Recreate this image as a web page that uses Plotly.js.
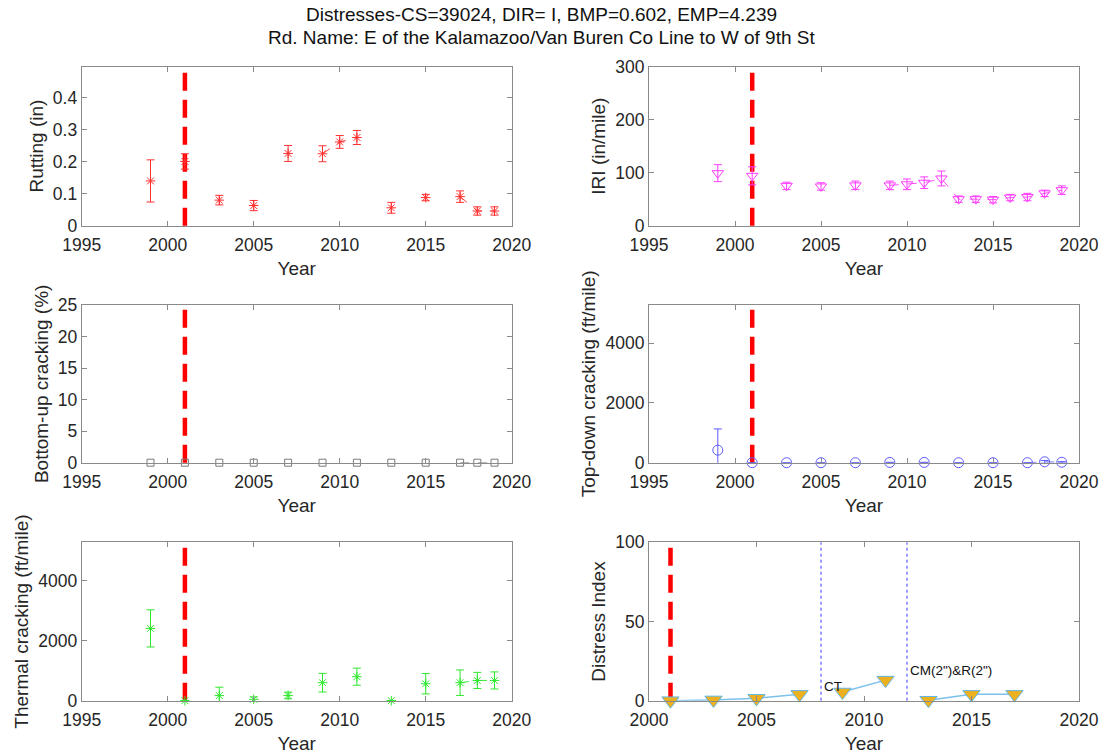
<!DOCTYPE html>
<html>
<head>
<meta charset="utf-8">
<script src="https://cdn.plot.ly/plotly-3.0.1.min.js"></script>
<style>html,body{margin:0;padding:0;background:#fff;}</style>
</head>
<body>
<div id="chart" style="width:1106px;height:755px;"></div>
<script>
// ---- Section data ----
const titleLines = [
  'Distresses-CS=39024, DIR= I, BMP=0.602, EMP=4.239',
  'Rd. Name: E of the Kalamazoo/Van Buren Co Line to W of 9th St'
];
const constructionYear = 2001;

const rutYears = [1999, 2001, 2003, 2005, 2007, 2009, 2010, 2011, 2013, 2015, 2017, 2018, 2019];
const rutVals  = [0.140, 0.201, 0.080, 0.063, 0.226, 0.225, 0.262, 0.276, 0.056, 0.088, 0.091, 0.046, 0.046];
const rutErr   = [0.066, 0.024, 0.015, 0.016, 0.025, 0.025, 0.020, 0.022, 0.017, 0.010, 0.018, 0.013, 0.013];

const iriYears = [1999, 2001, 2003, 2005, 2007, 2009, 2010, 2011, 2012, 2013, 2014, 2015, 2016, 2017, 2018, 2019];
const iriVals  = [99, 94, 75, 74, 76, 76, 78, 81, 89, 50, 50, 49, 53, 54, 61, 67];
const iriErr   = [16, 17, 7, 7, 8, 8, 10, 11, 14, 6, 6, 6, 6, 7, 6, 8];

const buYears = [1999, 2001, 2003, 2005, 2007, 2009, 2011, 2013, 2015, 2017, 2018, 2019];
const buVals  = [0, 0, 0, 0, 0, 0, 0, 0, 0, 0, 0, 0];

const tdYears = [1999, 2001, 2003, 2005, 2007, 2009, 2011, 2013, 2015, 2017, 2018, 2019];
const tdVals  = [420, 0, 0, 0, 0, 10, 10, 0, 0, 0, 30, 15];
const tdErr   = [710, 0, 0, 0, 0, 0, 0, 0, 0, 0, 45, 20];

const tcYears = [1999, 2001, 2003, 2005, 2007, 2009, 2011, 2013, 2015, 2017, 2018, 2019];
const tcVals  = [2410, 0, 170, 45, 175, 600, 800, 0, 565, 600, 675, 675];
const tcErr   = [620, 0, 280, 80, 110, 310, 285, 0, 340, 425, 270, 285];

const diYears = [2001, 2003, 2005, 2007, 2009, 2011, 2013, 2015, 2017];
const diVals  = [0, 0.5, 1.5, 4, 5.5, 13, 0.3, 4, 4];

const treatYears  = [2008, 2012];
const treatLabels = ['CT', 'CM(2")&R(2")'];
const treatLabelY = [9, 19];

const yearTicks   = [1995, 2000, 2005, 2010, 2015, 2020];
const diYearTicks = [2000, 2005, 2010, 2015, 2020];

// ---- helpers ----
const FONT = 'Liberation Sans, Arial, Helvetica, sans-serif';
const INK = '#262626';
const BOX = '#8a8a8a';

// insert a null between points that should not be joined by a line
function withGaps(xs, ys, es, isBreak) {
  const X = [], Y = [], E = [];
  xs.forEach((x, i) => {
    if (i > 0 && isBreak(xs[i - 1], x)) { X.push(null); Y.push(null); E.push(null); }
    X.push(x); Y.push(ys[i]); E.push(es ? es[i] : null);
  });
  return {X, Y, E};
}
const yearGap = (a, b) => b - a > 1;
const treatGap = (a, b) => treatYears.some(t => t > a && t < b);

function series(xa, ya, xs, ys, es, color, symbol, size) {
  const g = withGaps(xs, ys, es, yearGap);
  const tr = {
    type: 'scatter', mode: 'lines+markers', xaxis: xa, yaxis: ya,
    x: g.X, y: g.Y, connectgaps: false, cliponaxis: false,
    line: {color: color, width: 0.9, dash: 'dash'},
    marker: {symbol: symbol, size: size, color: color, line: {color: color, width: 1}},
    hoverinfo: 'x+y', showlegend: false
  };
  if (es) tr.error_y = {type: 'data', array: g.E, visible: true, color: color, thickness: 1, width: 4};
  return tr;
}

const traces = [
  series('x',  'y',  rutYears, rutVals, rutErr, '#ff3030', 'asterisk-open', 8),
  series('x2', 'y2', iriYears, iriVals, iriErr, '#ff3cff', 'triangle-down-open', 10),
  series('x3', 'y3', buYears,  buVals,  null,   '#7a7a7a', 'square-open', 7),
  series('x4', 'y4', tdYears,  tdVals,  tdErr,  '#5c5cff', 'circle-open', 10),
  series('x5', 'y5', tcYears,  tcVals,  tcErr,  '#2ee82e', 'asterisk-open', 8)
];

const di = withGaps(diYears, diVals, null, treatGap);
traces.push({
  type: 'scatter', mode: 'lines+markers', xaxis: 'x6', yaxis: 'y6',
  x: di.X, y: di.Y, connectgaps: false, cliponaxis: false,
  line: {color: '#7cc0ec', width: 1.5},
  marker: {symbol: 'triangle-down', size: 15, color: '#edb120', line: {color: '#5fb6e6', width: 1}},
  hoverinfo: 'x+y', showlegend: false
});

// ---- axes ----
const W = 1106, H = 755;
const colX = [[81.7, 511.7], [649, 1079]];
const rowY = [[66.5, 225.7], [305, 462.7], [542.3, 700.7]];
const xd = c => [colX[c][0] / W, colX[c][1] / W];
const yd = r => [1 - rowY[r][1] / H, 1 - rowY[r][0] / H];

function ax(extra) {
  return Object.assign({
    showline: true, mirror: 'ticks', linecolor: BOX, linewidth: 1,
    ticks: 'inside', ticklen: 5, tickwidth: 1, tickcolor: BOX,
    showgrid: false, zeroline: false,
    tickfont: {family: FONT, size: 17.5, color: INK}
  }, extra);
}
function xax(c, anchor, range, ticks) {
  return ax({domain: xd(c), anchor: anchor, range: range, tickvals: ticks, ticklabelstandoff: 3,
    title: {text: 'Year', font: {family: FONT, size: 19, color: INK}, standoff: 7}});
}
function yax(r, anchor, range, ticks, label) {
  return ax({domain: yd(r), anchor: anchor, range: range, tickvals: ticks,
    title: {text: label, font: {family: FONT, size: 19, color: INK}, standoff: 4}});
}

const layout = {
  width: W, height: H,
  margin: {l: 0, r: 0, t: 0, b: 0},
  paper_bgcolor: '#ffffff', plot_bgcolor: '#ffffff',
  font: {family: FONT, color: INK},
  showlegend: false,
  xaxis:  xax(0, 'y',  [1995, 2020], yearTicks),
  yaxis:  yax(0, 'x',  [0, 0.498], [0, 0.1, 0.2, 0.3, 0.4], 'Rutting (in)'),
  xaxis2: xax(1, 'y2', [1995, 2020], yearTicks),
  yaxis2: yax(0, 'x2', [0, 300], [0, 100, 200, 300], 'IRI (in/mile)'),
  xaxis3: xax(0, 'y3', [1995, 2020], yearTicks),
  yaxis3: yax(1, 'x3', [0, 25], [0, 5, 10, 15, 20, 25], 'Bottom-up cracking (%)'),
  xaxis4: xax(1, 'y4', [1995, 2020], yearTicks),
  yaxis4: yax(1, 'x4', [0, 5280], [0, 2000, 4000], 'Top-down cracking (ft/mile)'),
  xaxis5: xax(0, 'y5', [1995, 2020], yearTicks),
  yaxis5: yax(2, 'x5', [0, 5280], [0, 2000, 4000], 'Thermal cracking (ft/mile)'),
  xaxis6: xax(1, 'y6', [2000, 2020], diYearTicks),
  yaxis6: yax(2, 'x6', [0, 100], [0, 50, 100], 'Distress Index'),
  shapes: [],
  annotations: []
};

// two-line heading
titleLines.forEach((line, i) => {
  layout.annotations.push({
    xref: 'paper', yref: 'paper', x: 541 / W, y: 1 - (15 + 23 * i) / H,
    xanchor: 'center', yanchor: 'middle', showarrow: false, text: line,
    font: {family: FONT, size: 19, color: '#111'}
  });
});

// construction year marker on every panel
['', '2', '3', '4', '5', '6'].forEach(s => {
  layout.shapes.push({
    type: 'line', xref: 'x' + s, yref: 'y' + s + ' domain',
    x0: constructionYear, x1: constructionYear, y0: 0, y1: 1,
    line: {color: '#ff0000', width: 4.5, dash: '18px,9px'}, layer: 'below'
  });
});

// treatment years on the distress index panel
treatYears.forEach((t, i) => {
  layout.shapes.push({
    type: 'line', xref: 'x6', yref: 'y6 domain', x0: t, x1: t, y0: 0, y1: 1,
    line: {color: '#3a3aff', width: 1, dash: 'dot'}, layer: 'below'
  });
  layout.annotations.push({
    xref: 'x6', yref: 'y6', x: t, y: treatLabelY[i], text: treatLabels[i],
    showarrow: false, xanchor: 'left', yanchor: 'middle', xshift: 1,
    font: {family: FONT, size: 13.5, color: '#111'}
  });
});

Plotly.newPlot('chart', traces, layout, {displayModeBar: false, staticPlot: true});
</script>
</body>
</html>
